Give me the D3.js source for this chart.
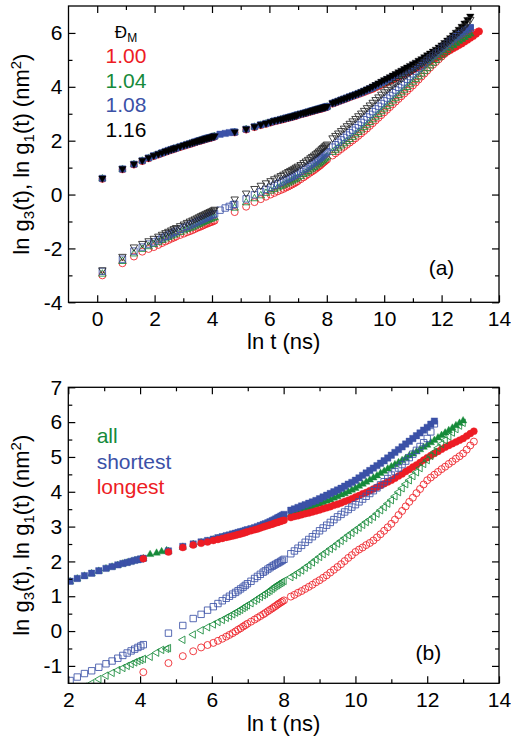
<!DOCTYPE html>
<html><head><meta charset="utf-8">
<script src="https://cdn.jsdelivr.net/npm/d3@7"></script>
<style>body{margin:0;background:#fff}</style>
</head><body>
<script>
// ---------------- DATA ----------------
// Panel (a): time grid (ln t, ns) shared by all series
const lnT_a = [0.18,0.88,1.28,1.57,1.79,1.97,2.13,2.26,2.38,2.48,
 2.58,2.67,2.75,2.89,3.02,3.13,3.23,3.32,3.40,3.48,
 3.55,3.62,3.68,3.74,3.80,3.86,3.92,3.98,4.04,4.09,
 4.28,4.46,4.60,4.74,
 4.79,5.19,5.48,5.70,5.88,6.04,6.17,6.29,6.40,6.49,
 6.58,6.66,6.73,6.80,6.87,6.93,6.99,7.09,7.19,7.27,
 7.35,7.43,7.49,7.56,7.62,7.68,7.73,7.78,7.83,7.87,
 7.92,7.96,8.01,
 8.2,8.3,8.4,8.5,8.6,8.7,8.8,8.9,9.0,9.1,
 9.2,9.3,9.4,9.5,9.6,9.7,9.8,9.9,10.0,10.1,
 10.2,10.3,10.4,10.5,10.6,10.7,10.8,10.9,11.0,11.1,
 11.2,11.3,11.4,11.5,11.6,11.7,11.8,11.9,12.0,12.1,
 12.2,12.3,12.4,12.5,12.6,12.7,12.8,12.9,13.0,13.1,
 13.2,13.3];

// ln g1(t), filled markers, panel (a)
const g1_100 = [0.58,0.93,1.11,1.24,1.34,1.42,1.48,1.53,1.58,1.62,
 1.65,1.68,1.71,1.76,1.80,1.84,1.87,1.90,1.93,1.96,
 1.98,2.00,2.02,2.04,2.06,2.08,2.09,2.11,2.13,2.15,
 null,null,null,null,
 2.30,2.41,2.50,2.57,2.62,2.67,2.71,2.74,2.77,2.79,
 2.82,2.84,2.86,2.88,2.90,2.92,2.94,2.97,3.00,3.02,
 3.05,3.07,3.09,3.11,3.13,3.15,3.16,3.18,3.19,3.20,
 3.22,3.23,3.25,
 3.37,3.41,3.45,3.49,3.53,3.57,3.61,3.65,3.69,3.72,
 3.76,3.80,3.84,3.88,3.92,3.97,4.02,4.07,4.12,4.17,
 4.22,4.27,4.32,4.37,4.42,4.47,4.52,4.57,4.63,4.68,
 4.73,4.79,4.84,4.90,4.95,5.01,5.06,5.12,5.18,5.24,
 5.30,5.36,5.42,5.48,5.54,5.60,5.67,5.74,5.81,5.88,
 5.96,6.05];
const g1_104 = [0.59,0.94,1.12,1.25,1.35,1.43,1.49,1.54,1.59,1.63,
 1.66,1.69,1.72,1.77,1.81,1.85,1.88,1.91,1.94,1.97,
 1.99,2.01,2.03,2.05,2.07,2.09,2.10,2.12,2.14,2.16,
 null,null,null,null,
 2.31,2.42,2.51,2.58,2.63,2.68,2.72,2.75,2.78,2.80,
 2.83,2.85,2.87,2.89,2.91,2.93,2.95,2.98,3.01,3.03,
 3.06,3.08,3.10,3.12,3.14,3.16,3.17,3.19,3.20,3.21,
 3.23,3.24,3.26,
 3.38,3.42,3.46,3.50,3.54,3.58,3.62,3.66,3.70,3.74,
 3.78,3.82,3.86,3.90,3.95,4.00,4.05,4.10,4.16,4.21,
 4.26,4.31,4.37,4.42,4.48,4.53,4.59,4.64,4.70,4.76,
 4.82,4.87,4.93,4.99,5.05,5.11,5.17,5.24,5.30,5.36,
 5.43,5.49,5.56,5.63,5.70,5.77,5.84,5.91,5.98,null,
 null,null];
const g1_108 = [0.60,0.95,1.13,1.26,1.36,1.44,1.50,1.55,1.60,1.64,
 1.67,1.70,1.73,1.78,1.82,1.86,1.89,1.92,1.95,1.98,
 2.00,2.02,2.04,2.06,2.08,2.10,2.11,2.13,2.15,2.17,
 2.24,2.27,2.30,2.32,
 2.32,2.43,2.52,2.59,2.64,2.69,2.73,2.76,2.79,2.81,
 2.84,2.86,2.88,2.90,2.92,2.94,2.96,2.99,3.02,3.04,
 3.07,3.09,3.11,3.13,3.15,3.17,3.18,3.20,3.21,3.22,
 3.24,3.25,3.27,
 3.39,3.43,3.47,3.51,3.55,3.59,3.63,3.67,3.71,3.75,
 3.79,3.84,3.88,3.93,3.98,4.04,4.09,4.15,4.20,4.26,
 4.31,4.37,4.42,4.48,4.54,4.59,4.65,4.71,4.77,4.83,
 4.89,4.95,5.02,5.08,5.15,5.21,5.28,5.35,5.42,5.49,
 5.57,5.64,5.72,5.80,5.88,5.96,6.04,6.12,6.20,null,
 null,null];
const g1_116 = [0.61,0.96,1.14,1.27,1.37,1.45,1.51,1.56,1.61,1.64,
 1.68,1.71,1.74,1.79,1.83,1.87,1.90,1.93,1.96,1.98,
 2.01,2.03,2.05,2.07,2.09,2.10,2.12,2.14,2.16,2.18,
 null,null,null,null,
 2.33,2.44,2.53,2.60,2.65,2.70,2.74,2.77,2.80,2.82,
 2.85,2.87,2.89,2.91,2.93,2.95,2.97,3.00,3.03,3.05,
 3.08,3.10,3.12,3.14,3.16,3.18,3.19,3.21,3.22,3.23,
 3.25,3.26,3.28,
 3.40,3.44,3.48,3.52,3.56,3.60,3.64,3.68,3.72,3.76,
 3.81,3.86,3.91,3.96,4.02,4.08,4.14,4.20,4.26,4.31,
 4.37,4.43,4.49,4.55,4.61,4.67,4.73,4.79,4.85,4.91,
 4.98,5.04,5.11,5.18,5.25,5.32,5.39,5.47,5.55,5.64,
 5.73,5.82,5.92,6.02,6.13,6.24,6.36,6.49,6.62,null,
 null,null];

// ln g3(t), open markers, panel (a)
const g3_100 = [-3.00,-2.55,-2.30,-2.12,-2.02,-1.95,-1.87,-1.80,-1.74,-1.69,
 -1.64,-1.60,-1.56,-1.50,-1.45,-1.40,-1.36,-1.32,-1.28,-1.24,
 -1.21,-1.18,-1.15,-1.12,-1.09,-1.07,-1.04,-1.02,-0.99,-0.97,
 null,null,null,null,
 -0.65,-0.45,-0.28,-0.17,-0.08,0.00,0.06,0.12,0.17,0.21,
 0.26,0.30,0.34,0.38,0.42,0.46,0.50,0.57,0.64,0.70,
 0.76,0.82,0.86,0.91,0.96,1.01,1.05,1.09,1.14,1.18,
 1.22,1.26,1.30,
 1.45,1.53,1.61,1.69,1.77,1.85,1.93,2.01,2.09,2.18,
 2.27,2.36,2.45,2.55,2.65,2.75,2.85,2.95,3.05,3.15,
 3.25,3.35,3.45,3.55,3.65,3.75,3.85,3.95,4.05,4.16,
 4.27,4.38,4.49,4.60,4.71,4.82,4.92,5.02,5.12,5.22,
 5.31,5.40,5.48,5.56,5.63,5.70,5.77,5.84,5.90,5.96,
 6.01,6.06];
const g3_104 = [-2.95,-2.48,-2.20,-2.03,-1.93,-1.85,-1.77,-1.70,-1.64,-1.59,
 -1.54,-1.50,-1.46,-1.40,-1.34,-1.29,-1.25,-1.21,-1.17,-1.13,
 -1.10,-1.06,-1.03,-1.00,-0.98,-0.95,-0.92,-0.90,-0.87,-0.85,
 null,null,null,null,
 -0.50,-0.30,-0.15,-0.04,0.05,0.13,0.19,0.25,0.30,0.35,
 0.39,0.43,0.47,0.51,0.55,0.58,0.62,0.68,0.75,0.80,
 0.86,0.92,0.96,1.01,1.06,1.11,1.15,1.19,1.24,1.28,
 1.32,1.36,1.40,
 1.57,1.65,1.73,1.81,1.89,1.97,2.05,2.13,2.22,2.31,
 2.40,2.49,2.58,2.68,2.78,2.88,2.98,3.08,3.18,3.28,
 3.38,3.48,3.58,3.68,3.78,3.88,3.98,4.08,4.18,4.28,
 4.38,4.48,4.58,4.68,4.78,4.88,4.98,5.08,5.18,5.27,
 5.36,5.45,5.54,5.62,5.70,5.77,5.84,5.91,5.97,null,
 null,null];
const g3_108 = [-2.85,-2.40,-2.10,-1.95,-1.84,-1.76,-1.68,-1.61,-1.55,-1.50,
 -1.45,-1.40,-1.36,-1.29,-1.23,-1.18,-1.13,-1.09,-1.05,-1.01,
 -0.97,-0.94,-0.91,-0.88,-0.85,-0.82,-0.79,-0.76,-0.74,-0.71,
 -0.58,-0.50,-0.44,-0.38,
 -0.36,-0.16,-0.01,0.10,0.19,0.27,0.34,0.40,0.46,0.51,
 0.56,0.60,0.64,0.68,0.72,0.76,0.80,0.86,0.93,0.98,
 1.04,1.10,1.15,1.20,1.25,1.30,1.34,1.38,1.43,1.47,
 1.51,1.55,1.59,
 1.76,1.85,1.94,2.03,2.12,2.21,2.30,2.39,2.48,2.58,
 2.68,2.78,2.88,2.98,3.08,3.18,3.28,3.38,3.48,3.58,
 3.68,3.78,3.88,3.98,4.08,4.18,4.28,4.38,4.48,4.58,
 4.68,4.78,4.88,4.98,5.07,5.16,5.25,5.34,5.43,5.52,
 5.61,5.70,5.78,5.86,5.93,6.00,6.07,6.13,6.18,null,
 null,null];
const g3_116 = [-2.80,-2.30,-1.95,-1.82,-1.72,-1.63,-1.55,-1.48,-1.42,-1.37,
 -1.32,-1.27,-1.23,-1.16,-1.10,-1.04,-0.99,-0.95,-0.91,-0.87,
 -0.83,-0.79,-0.76,-0.73,-0.70,-0.67,-0.64,-0.61,-0.58,-0.55,
 null,null,null,null,
 -0.17,0.05,0.22,0.34,0.43,0.51,0.58,0.64,0.70,0.75,
 0.80,0.85,0.89,0.93,0.97,1.01,1.05,1.11,1.18,1.24,
 1.30,1.36,1.41,1.46,1.51,1.56,1.61,1.65,1.70,1.74,
 1.79,1.83,1.87,
 2.10,2.19,2.28,2.37,2.46,2.55,2.64,2.73,2.82,2.92,
 3.02,3.12,3.22,3.32,3.42,3.52,3.62,3.72,3.81,3.90,
 3.99,4.07,4.15,4.23,4.31,4.39,4.47,4.55,4.63,4.71,
 4.79,4.87,4.95,5.03,5.11,5.20,5.29,5.38,5.47,5.56,
 5.65,5.74,5.84,5.94,6.04,6.14,6.25,6.37,6.50,null,
 null,null];

// Panel (b): time grid
const lnT_b = [2.05,2.25,2.45,2.65,2.85,3.05,3.22,3.38,3.52,3.64,
 3.75,3.85,3.94,4.02,4.09,
 4.28,4.46,4.60,4.74,
 4.79,5.19,5.48,5.70,5.88,6.04,6.17,6.29,6.40,6.49,
 6.58,6.66,6.73,6.80,6.87,6.93,6.99,7.09,7.19,7.27,
 7.35,7.43,7.49,7.56,7.62,7.68,7.73,7.78,7.83,7.87,
 7.92,7.96,8.01,
 8.2,8.3,8.4,8.5,8.6,8.7,8.8,8.9,9.0,9.1,
 9.2,9.3,9.4,9.5,9.6,9.7,9.8,9.9,10.0,10.1,
 10.2,10.3,10.4,10.5,10.6,10.7,10.8,10.9,11.0,11.1,
 11.2,11.3,11.4,11.5,11.6,11.7,11.8,11.9,12.0,12.1,
 12.2,12.3,12.4,12.5,12.6,12.7,12.8,12.9,13.0,13.1,
 13.2,13.3];

const g1_all = [1.42,1.50,1.58,1.65,1.72,1.79,1.84,1.89,1.93,1.96,
 1.99,2.02,2.04,2.06,2.08,
 2.20,2.24,2.28,2.31,
 2.29,2.41,2.49,2.54,2.58,2.62,2.66,2.69,2.72,2.74,
 2.76,2.78,2.80,2.82,2.84,2.86,2.88,2.91,2.94,2.97,
 3.00,3.03,3.05,3.07,3.10,3.12,3.14,3.17,3.19,3.21,
 3.23,3.25,3.27,
 3.35,3.38,3.42,3.45,3.49,3.53,3.57,3.61,3.65,3.69,
 3.73,3.77,3.82,3.86,3.91,3.95,4.00,4.05,4.10,4.16,
 4.22,4.28,4.34,4.40,4.46,4.53,4.59,4.66,4.72,4.78,
 4.84,4.90,4.96,5.03,5.09,5.15,5.21,5.28,5.34,5.41,
 5.48,5.55,5.62,5.69,5.76,5.83,5.90,5.97,6.04,null,
 null,null];
const g3_all = [null,null,-1.60,-1.50,-1.38,-1.28,-1.20,-1.12,-1.06,-1.00,
 -0.95,-0.90,-0.86,-0.83,-0.80,
 -0.74,-0.62,-0.54,-0.51,
 -0.49,-0.25,-0.10,0.02,0.11,0.19,0.26,0.32,0.38,0.43,
 0.48,0.53,0.57,0.61,0.66,0.70,0.74,0.80,0.87,0.92,
 0.98,1.03,1.07,1.12,1.16,1.21,1.25,1.29,1.32,1.35,
 1.38,1.41,1.44,
 1.55,1.61,1.68,1.74,1.82,1.89,1.97,2.05,2.13,2.21,
 2.28,2.36,2.43,2.51,2.59,2.67,2.75,2.82,2.90,2.97,
 3.05,3.13,3.20,3.28,3.37,3.47,3.56,3.66,3.76,3.87,
 3.99,4.10,4.22,4.33,4.45,4.56,4.68,4.80,4.91,5.03,
 5.14,5.26,5.37,5.48,5.59,5.70,5.80,5.90,5.98,null,
 null,null];
const g1_short = [1.43,1.51,1.59,1.66,1.73,1.80,1.85,1.90,1.94,1.97,
 2.00,2.03,2.05,2.07,2.09,
 null,null,null,null,
 2.30,2.43,2.50,2.56,2.60,2.64,2.68,2.71,2.74,2.76,
 2.79,2.81,2.83,2.85,2.87,2.89,2.91,2.94,2.97,3.00,
 3.03,3.06,3.08,3.11,3.14,3.17,3.19,3.22,3.25,3.27,
 3.30,3.32,3.35,
 3.47,3.51,3.55,3.59,3.63,3.67,3.71,3.75,3.80,3.85,
 3.90,3.95,4.00,4.05,4.10,4.16,4.22,4.27,4.33,4.40,
 4.47,4.54,4.61,4.68,4.75,4.82,4.89,4.97,5.05,5.13,
 5.21,5.29,5.37,5.45,5.53,5.61,5.69,5.77,5.85,5.94,
 6.03,null,null,null,null,null,null,null,null,null,
 null,null];
const g3_short = [-1.42,-1.32,-1.22,-1.14,-1.04,-0.94,-0.86,-0.78,-0.70,-0.63,
 -0.57,-0.52,-0.47,-0.43,-0.39,
 null,null,null,null,
 -0.06,0.16,0.36,0.48,0.60,0.70,0.79,0.87,0.94,1.00,
 1.06,1.11,1.16,1.21,1.26,1.31,1.36,1.43,1.51,1.57,
 1.63,1.69,1.73,1.78,1.82,1.86,1.89,1.92,1.95,1.97,
 2.00,2.03,2.06,
 2.22,2.30,2.38,2.46,2.55,2.63,2.71,2.79,2.88,2.96,
 3.04,3.12,3.20,3.28,3.35,3.42,3.49,3.56,3.63,3.71,
 3.79,3.87,3.95,4.03,4.11,4.20,4.29,4.38,4.48,4.58,
 4.68,4.78,4.88,4.98,5.08,5.19,5.30,5.41,5.53,5.72,
 5.95,null,null,null,null,null,null,null,null,null,
 null,null];
const g1_long = [null,null,null,null,null,null,null,null,null,null,
 null,null,null,null,2.08,
 null,null,null,null,
 2.27,2.40,2.47,2.52,2.56,2.60,2.63,2.66,2.69,2.71,
 2.73,2.75,2.77,2.79,2.81,2.83,2.85,2.88,2.91,2.93,
 2.96,2.99,3.01,3.03,3.05,3.07,3.09,3.11,3.12,3.14,
 3.15,3.17,3.18,
 3.26,3.29,3.31,3.34,3.37,3.39,3.42,3.45,3.48,3.51,
 3.54,3.57,3.61,3.64,3.68,3.72,3.76,3.80,3.85,3.89,
 3.94,3.98,4.03,4.08,4.13,4.18,4.23,4.28,4.33,4.39,
 4.45,4.51,4.58,4.64,4.71,4.77,4.84,4.91,4.98,5.04,
 5.10,5.16,5.22,5.28,5.33,5.38,5.43,5.48,5.53,5.60,
 5.67,5.74];
const g3_long = [null,null,null,null,null,null,null,null,null,null,
 null,null,null,null,-1.18,
 null,null,null,null,
 -0.92,-0.72,-0.58,-0.47,-0.40,-0.34,-0.28,-0.22,-0.16,-0.11,
 -0.06,-0.01,0.04,0.08,0.13,0.17,0.21,0.27,0.33,0.38,
 0.43,0.48,0.52,0.57,0.61,0.65,0.69,0.72,0.76,0.79,
 0.82,0.85,0.88,
 0.99,1.04,1.10,1.15,1.21,1.27,1.33,1.40,1.46,1.53,
 1.60,1.68,1.76,1.84,1.92,2.01,2.10,2.18,2.27,2.34,
 2.40,2.47,2.53,2.60,2.69,2.78,2.88,2.98,3.08,3.20,
 3.33,3.45,3.58,3.71,3.83,3.96,4.08,4.21,4.33,4.41,
 4.49,4.57,4.65,4.72,4.80,4.87,4.95,5.02,5.10,5.21,
 5.33,5.44];

// tick labels / legends
const xTicksA = [0,2,4,6,8,10,12,14], xMinorA = [1,3,5,7,9,11,13];
const yTicksA = [-4,-2,0,2,4,6], yMinorA = [-3,-1,1,3,5];
const xTicksB = [2,4,6,8,10,12,14], xMinorB = [3,5,7,9,11,13];
const yTicksB = [-1,0,1,2,3,4,5,6,7], yMinorB = [-0.5,0.5,1.5,2.5,3.5,4.5,5.5,6.5];
const legendA = ["1.00","1.04","1.08","1.16"];
const legendB = ["all","shortest","longest"];

// ---------------- DRAWING ----------------
const RED="#ed1c24", GREEN="#168a3a", BLUE="#3b51a7", BLACK="#000000";
const FONT="'Liberation Sans', Arial, Helvetica, sans-serif";
const svg = d3.select("body").append("svg").attr("width",511).attr("height",738)
  .style("font-family",FONT);

function shape(type, r){
  const a=r*0.866, b=r*0.5;
  switch(type){
    case "circle": return `M${-r},0A${r},${r} 0 1,0 ${r},0A${r},${r} 0 1,0 ${-r},0Z`;
    case "square": return `M${-r},${-r}H${r}V${r}H${-r}Z`;
    case "up": return `M0,${-r}L${a},${b}L${-a},${b}Z`;
    case "down": return `M0,${r}L${a},${-b}L${-a},${-b}Z`;
    case "left": return `M${-r},0L${b},${-a}L${b},${a}Z`;
  }
}
const SIZE = {circle:3.5, square:3.2, up:4.3, down:4.3, left:4.3};

function panel(cfg, idx){
  const x = d3.scaleLinear().domain(cfg.xDomain).range([cfg.left,cfg.right]);
  const y = d3.scaleLinear().domain(cfg.yDomain).range([cfg.bottom,cfg.top]);
  const g = svg.append("g");
  const cid = "clip"+idx;
  g.append("clipPath").attr("id",cid).append("rect")
    .attr("x",cfg.left).attr("y",cfg.top)
    .attr("width",cfg.right-cfg.left).attr("height",cfg.bottom-cfg.top);
  const plot = g.append("g").attr("clip-path",`url(#${cid})`);
  cfg.series.forEach(s=>{
    const pts = cfg.lnT.map((t,i)=>[t,s.v[i]]).filter(d=>d[1]!=null && d[1]!==undefined);
    plot.append("g").selectAll("path").data(pts).join("path")
      .attr("transform",d=>`translate(${x(d[0])},${y(d[1])})`)
      .attr("d",shape(s.shape,SIZE[s.shape]))
      .attr("fill",s.filled? s.color : "none")
      .attr("stroke",s.color)
      .attr("stroke-width",s.filled?0.4:0.85);
  });
  const tickStyle = sel=>{
    sel.select(".domain").remove();
    sel.selectAll(".tick line").attr("stroke","#000").attr("stroke-width",1.2);
    sel.selectAll(".tick text").attr("fill","#000").style("font-size","21px").style("font-family",FONT);
  };
  const fmt = d=>String(d);
  g.append("g").attr("transform",`translate(0,${cfg.bottom})`)
    .call(d3.axisBottom(x).tickValues(cfg.xTicks).tickFormat(fmt).tickSizeInner(-7).tickSizeOuter(0).tickPadding(9)).call(tickStyle);
  g.append("g").attr("transform",`translate(0,${cfg.bottom})`)
    .call(d3.axisBottom(x).tickValues(cfg.xMinor).tickFormat("").tickSizeInner(-4).tickSizeOuter(0)).call(tickStyle);
  g.append("g").attr("transform",`translate(0,${cfg.top})`)
    .call(d3.axisTop(x).tickValues(cfg.xTicks).tickFormat("").tickSizeInner(-7).tickSizeOuter(0)).call(tickStyle);
  g.append("g").attr("transform",`translate(0,${cfg.top})`)
    .call(d3.axisTop(x).tickValues(cfg.xMinor).tickFormat("").tickSizeInner(-4).tickSizeOuter(0)).call(tickStyle);
  g.append("g").attr("transform",`translate(${cfg.left},0)`)
    .call(d3.axisLeft(y).tickValues(cfg.yTicks).tickFormat(fmt).tickSizeInner(-7).tickSizeOuter(0).tickPadding(6)).call(tickStyle);
  g.append("g").attr("transform",`translate(${cfg.left},0)`)
    .call(d3.axisLeft(y).tickValues(cfg.yMinor).tickFormat("").tickSizeInner(-4).tickSizeOuter(0)).call(tickStyle);
  g.append("g").attr("transform",`translate(${cfg.right},0)`)
    .call(d3.axisRight(y).tickValues(cfg.yTicks).tickFormat("").tickSizeInner(-7).tickSizeOuter(0)).call(tickStyle);
  g.append("g").attr("transform",`translate(${cfg.right},0)`)
    .call(d3.axisRight(y).tickValues(cfg.yMinor).tickFormat("").tickSizeInner(-4).tickSizeOuter(0)).call(tickStyle);
  g.append("rect").attr("x",cfg.left).attr("y",cfg.top)
    .attr("width",cfg.right-cfg.left).attr("height",cfg.bottom-cfg.top)
    .attr("fill","none").attr("stroke","#000").attr("stroke-width",1.3);
  g.append("text").attr("x",(cfg.left+cfg.right)/2).attr("y",cfg.xTitleY)
    .attr("text-anchor","middle").style("font-size","22px").text("ln t (ns)");
  const yt = g.append("text")
    .attr("transform",`translate(29.3,${(cfg.top+cfg.bottom)/2}) rotate(-90)`)
    .attr("text-anchor","middle").style("font-size","22px");
  yt.append("tspan").text("ln g");
  yt.append("tspan").attr("dy",5).style("font-size","15px").text("3");
  yt.append("tspan").attr("dy",-5).text("(t), ln g");
  yt.append("tspan").attr("dy",5).style("font-size","15px").text("1");
  yt.append("tspan").attr("dy",-5).text("(t) (nm");
  yt.append("tspan").attr("dy",-8).style("font-size","15px").text("2");
  yt.append("tspan").attr("dy",8).text(")");
  g.append("text").attr("x",cfg.tag[1]).attr("y",cfg.tag[2])
    .attr("text-anchor","middle").style("font-size","21px").text(cfg.tag[0]);
  return g;
}

const gA = panel({
  lnT: lnT_a, xDomain:[-1,14], yDomain:[-4,7],
  left:68.5, right:499, top:6, bottom:302.3,
  xTicks:xTicksA, xMinor:xMinorA, yTicks:yTicksA, yMinor:yMinorA,
  xTitleY:349, tag:["(a)",441.5,275],
  series:[
    {v:g1_100, shape:"circle", color:RED, filled:true},
    {v:g1_104, shape:"up", color:GREEN, filled:true},
    {v:g1_108, shape:"square", color:BLUE, filled:true},
    {v:g1_116, shape:"down", color:BLACK, filled:true},
    {v:g3_100, shape:"circle", color:RED, filled:false},
    {v:g3_104, shape:"up", color:GREEN, filled:false},
    {v:g3_108, shape:"square", color:BLUE, filled:false},
    {v:g3_116, shape:"down", color:"#222", filled:false}
  ]
},0);

const gB = panel({
  lnT: lnT_b, xDomain:[2,14], yDomain:[-1.5,7],
  left:68.3, right:499, top:387.3, bottom:683.3,
  xTicks:xTicksB, xMinor:xMinorB, yTicks:yTicksB, yMinor:yMinorB,
  xTitleY:731, tag:["(b)",428.3,660],
  series:[
    {v:g1_all, shape:"up", color:GREEN, filled:true},
    {v:g1_short, shape:"square", color:BLUE, filled:true},
    {v:g1_long, shape:"circle", color:RED, filled:true},
    {v:g3_all, shape:"left", color:GREEN, filled:false},
    {v:g3_short, shape:"square", color:BLUE, filled:false},
    {v:g3_long, shape:"circle", color:RED, filled:false}
  ]
},1);

const lt = gA.append("text").attr("x",126).attr("y",38).attr("text-anchor","middle").style("font-size","17px");
lt.append("tspan").text("Đ");
lt.append("tspan").attr("dy",4).style("font-size","12px").text("M");
const colA=[RED,GREEN,BLUE,BLACK], yA=[63,88,112,137];
legendA.forEach((t,i)=>gA.append("text").attr("x",126).attr("y",yA[i]).attr("text-anchor","middle")
  .style("font-size","21px").attr("fill",colA[i]).text(t));
const colB=[GREEN,BLUE,RED], yB=[443,469,494];
legendB.forEach((t,i)=>gB.append("text").attr("x",96.7).attr("y",yB[i])
  .style("font-size","21px").attr("fill",colB[i]).text(t));
</script>
</body></html>
